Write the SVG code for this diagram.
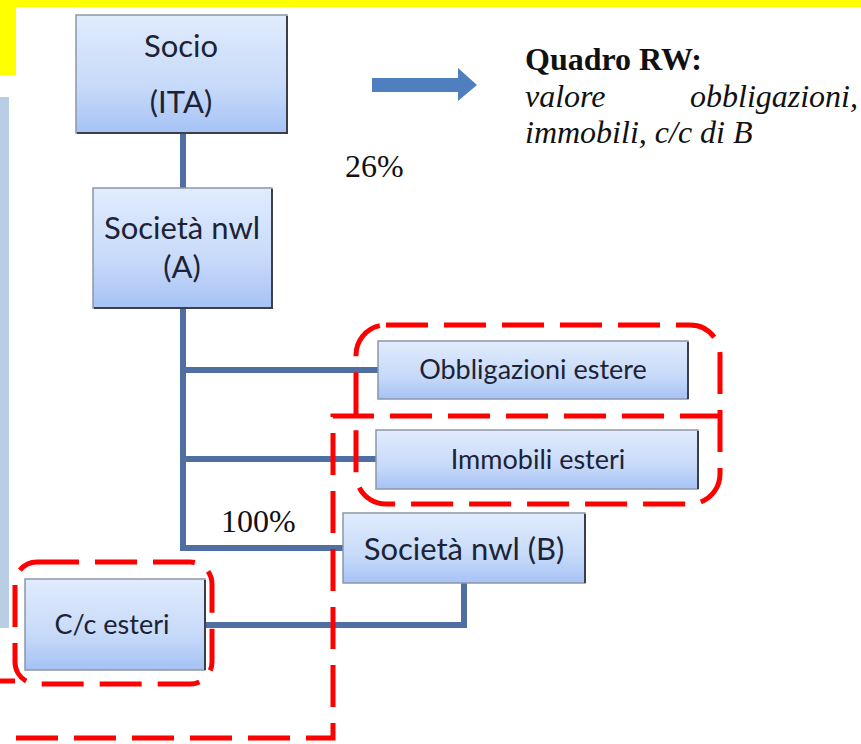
<svg xmlns="http://www.w3.org/2000/svg" width="861" height="744" viewBox="0 0 861 744">
<defs>
<linearGradient id="g" x1="0" y1="0" x2="0" y2="1">
<stop offset="0" stop-color="#e1ecfd"/>
<stop offset="0.6" stop-color="#c7daf9"/>
<stop offset="1" stop-color="#a6c2f5"/>
</linearGradient>
<style>
.box{fill:url(#g);stroke:#8c97a6;stroke-width:1.5}
.sh{fill:none;stroke:#3a3f48;stroke-width:2}
.lbl{font-family:Lato,"Open Sans","Liberation Sans",sans-serif;fill:#1c2336;text-anchor:middle}
.ser{font-family:"Liberation Serif","Times New Roman",serif;fill:#111;font-size:32px}
.con{fill:none;stroke:#4f6fa3;stroke-width:6}
.red{fill:none;stroke:#ff0000;stroke-width:5;stroke-dasharray:42 16}
</style>
</defs>
<rect width="861" height="744" fill="#ffffff"/>
<rect x="0" y="0" width="861" height="7" fill="#ffff00"/>
<rect x="0" y="0" width="16" height="75" fill="#ffff00"/>
<rect x="0" y="97" width="9" height="531" fill="#b9cde5"/>

<g id="connectors">
<path class="con" d="M183,133 V188"/>
<path class="con" d="M183,308 V548 H343"/>
<path class="con" d="M183,370 H378"/>
<path class="con" d="M183,459 H376"/>
<path class="con" d="M464,583 V625 H205"/>
</g>

<g id="socio">
<rect class="box" x="76" y="15" width="211" height="118"/>
<path class="sh" d="M287,16 V133 H77"/>
<text class="lbl" x="181" y="57" font-size="31">Socio</text>
<text class="lbl" x="181" y="113" font-size="31">(ITA)</text>
</g>
<g id="societaA">
<rect class="box" x="93" y="188" width="179" height="120"/>
<path class="sh" d="M272,189 V308 H94"/>
<text class="lbl" x="182" y="239" font-size="31">Società nwl</text>
<text class="lbl" x="182" y="278" font-size="31">(A)</text>
</g>
<g id="obbligazioni">
<rect class="box" x="378" y="341" width="310" height="58"/>
<path class="sh" d="M688,342 V399"/>
<text class="lbl" x="533" y="379" font-size="27">Obbligazioni estere</text>
</g>
<g id="immobili">
<rect class="box" x="376" y="430" width="322" height="59"/>
<path class="sh" d="M698,431 V489"/>
<text class="lbl" x="538" y="469" font-size="27">Immobili esteri</text>
</g>
<g id="societaB">
<rect class="box" x="343" y="513" width="242" height="70"/>
<path class="sh" d="M585,514 V583"/>
<text class="lbl" x="464" y="560" font-size="31">Società nwl (B)</text>
</g>
<g id="cc">
<rect class="box" x="25" y="579" width="180" height="91"/>
<path class="sh" d="M205,580 V670"/>
<text class="lbl" x="112" y="634" font-size="27">C/c esteri</text>
</g>

<g id="arrow">
<path d="M372,78 H458 V68 L477,85 L458,101 V92 H372 Z" fill="#4f7fbf"/>
</g>
<g id="labels">
<text class="ser" x="525" y="70" font-weight="bold">Quadro RW:</text>
<text class="ser" x="525" y="107" font-style="italic">valore</text>
<text class="ser" x="858" y="107" font-style="italic" text-anchor="end">obbligazioni,</text>
<text class="ser" x="525" y="143" font-style="italic">immobili, c/c di B</text>
<text class="ser" x="345" y="177">26%</text>
<text class="ser" x="221" y="532">100%</text>
</g>

<g id="highlights">
<rect class="red" x="356" y="325" width="364" height="179" rx="30"/>
<path class="red" d="M722,416 H333 V738 H0"/>
<rect class="red" x="15" y="562" width="197" height="122" rx="22"/>
<path class="red" d="M0,681 H15" stroke-dasharray="none"/>
</g>
</svg>
